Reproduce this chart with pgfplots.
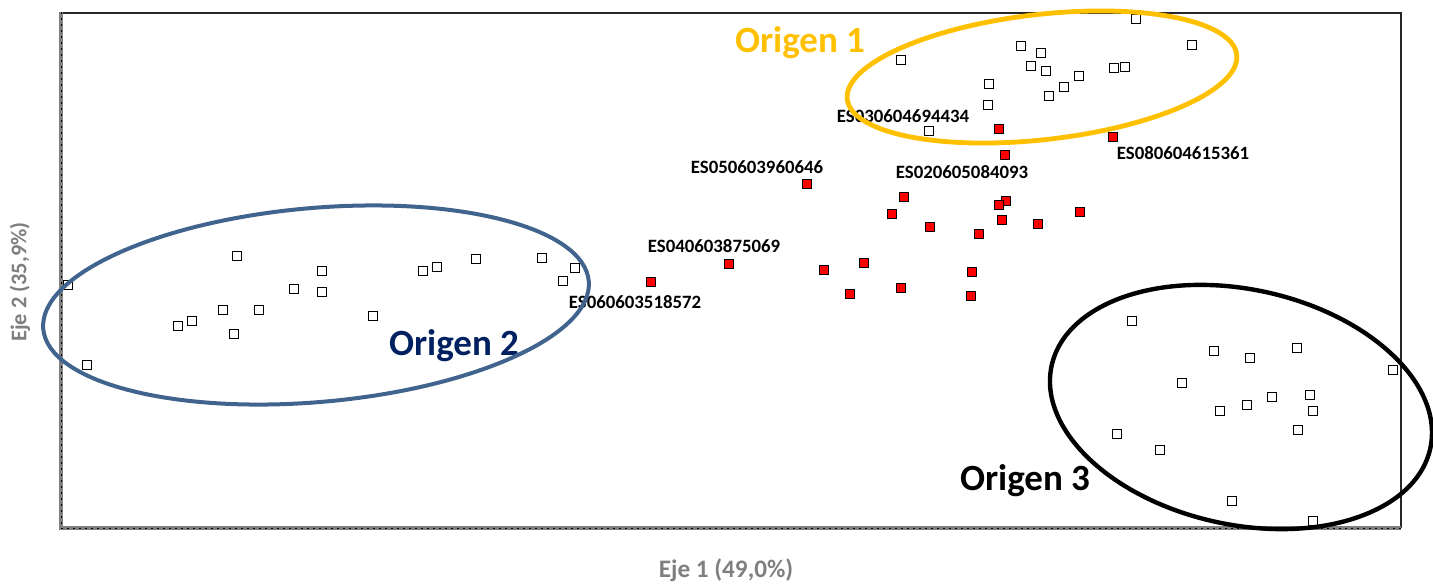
\documentclass[border=0pt]{standalone}
\usepackage{pgfplots}
\pgfplotsset{compat=1.18}
\usepackage{fontspec}
\setmainfont{Carlito}
\definecolor{oyellow}{HTML}{FFC000}
\definecolor{oblue}{HTML}{41648F}
\definecolor{onavy}{HTML}{002060}
\definecolor{ogray}{HTML}{7F7F7F}
\pgfdeclareplotmark{cube}{%
  \pgfpathrectangle{\pgfpoint{-\pgfplotmarksize-1.5pt}{-\pgfplotmarksize+0.5pt}}{\pgfpoint{2\pgfplotmarksize}{2\pgfplotmarksize}}%
  \pgfusepathqstroke
  \pgfpathrectangle{\pgfpoint{-\pgfplotmarksize}{-\pgfplotmarksize}}{\pgfpoint{2\pgfplotmarksize}{2\pgfplotmarksize}}%
  \pgfusepathqfillstroke
}
\begin{document}
\begin{tikzpicture}
\useasboundingbox (-30pt,-28pt) rectangle (686.5pt,264pt);
\begin{axis}[
  at={(0,0)}, anchor=south west,
  scale only axis, width=670.5pt, height=258pt,
  xmin=60, xmax=1401, ymin=12, ymax=528, y dir=reverse,
  hide axis, clip=false,
]
% frame
\draw[black!85, line width=1pt] (axis cs:60,12.5) -- (axis cs:1401,12.5) -- (axis cs:1401,528);
\draw[gray, line width=2pt] (axis cs:61,12) -- (axis cs:61,528) -- (axis cs:1401,528);
\draw[black, line width=0.5pt, dash pattern=on 1pt off 2pt] (axis cs:61,12) -- (axis cs:61,528) -- (axis cs:1401,528);
% Origen 1
\addplot[only marks, mark=cube, mark size=2.1pt, mark options={fill=white, draw=black, line width=0.6pt}] coordinates {
(1136,19) (1192,45) (1021,46) (1041,53) (901,60) (1031,66) (1046,71) (1114,68) (1125,67)
(1079,76) (989,84) (1064,87) (1049,96) (988,105) (929,131)
};
% Origen 2
\addplot[only marks, mark=cube, mark size=2.1pt, mark options={fill=white, draw=black, line width=0.6pt}] coordinates {
(237,256) (322,271) (294,289) (322,292) (223,310) (259,310) (192,321) (178,326) (234,334)
(373,316) (423,271) (437,267) (68,285) (87,365) (476,259) (542,258) (575,268) (563,281)
};
% Origen 3
\addplot[only marks, mark=cube, mark size=2.1pt, mark options={fill=white, draw=black, line width=0.6pt}] coordinates {
(1132,321) (1214,351) (1250,358) (1297,348) (1182,383) (1393,370) (1272,397) (1310,395)
(1247,405) (1220,411) (1313,411) (1298,430) (1117,434) (1160,450) (1232,501) (1313,521)
};
% unknown (red)
\addplot[only marks, mark=square*, mark size=2.3pt, mark options={fill=red, draw=black, line width=0.6pt}] coordinates {
(999,129) (1113,137) (1005,155) (807,184) (904,197) (892,214) (1006,201) (999,205)
(1080,212) (1002,220) (930,227) (1038,224) (979,234) (729,264) (864,263) (824,270)
(972,272) (651,282) (901,288) (850,294) (971,296)
};
\coordinate (e1) at (axis cs:1042,77);
\coordinate (e2) at (axis cs:316,305);
\coordinate (e3) at (axis cs:1241,407);
\begin{scope}[font=\bfseries\fontsize{9.4}{11}\selectfont]
\node at (axis cs:903,116) {ES030604694434};
\node at (axis cs:1183,153) {ES080604615361};
\node at (axis cs:757,167) {ES050603960646};
\node at (axis cs:962,172) {ES020605084093};
\node at (axis cs:714,246) {ES040603875069};
\node at (axis cs:635,302) {ES060603518572};
\end{scope}
\node[font=\bfseries\fontsize{18.5}{22}\selectfont, text=oyellow] at (axis cs:800,43) {Origen 1};
\node[font=\bfseries\fontsize{18.5}{22}\selectfont, text=onavy] at (axis cs:454,346) {Origen 2};
\node[font=\bfseries\fontsize{18.5}{22}\selectfont, text=black] at (axis cs:1025,481) {Origen 3};
\node[font=\bfseries\fontsize{12.6}{15}\selectfont, text=ogray] at (axis cs:726,570) {Eje 1 (49,0\%)};
\node[font=\bfseries\fontsize{11.2}{14}\selectfont, text=ogray, rotate=90] at (axis cs:20,282) {Eje 2 (35,9\%)};
\end{axis}
\draw[oyellow, line width=2.4pt, rotate around={6.5:(e1)}] (e1) ellipse [x radius=98pt, y radius=31.3pt];
\draw[oblue, line width=2pt, rotate around={5:(e2)}] (e2) ellipse [x radius=136.9pt, y radius=48.5pt];
\draw[black, line width=2.2pt, rotate around={-12.3:(e3)}] (e3) ellipse [x radius=96.9pt, y radius=58.8pt];
\end{tikzpicture}
\end{document}
